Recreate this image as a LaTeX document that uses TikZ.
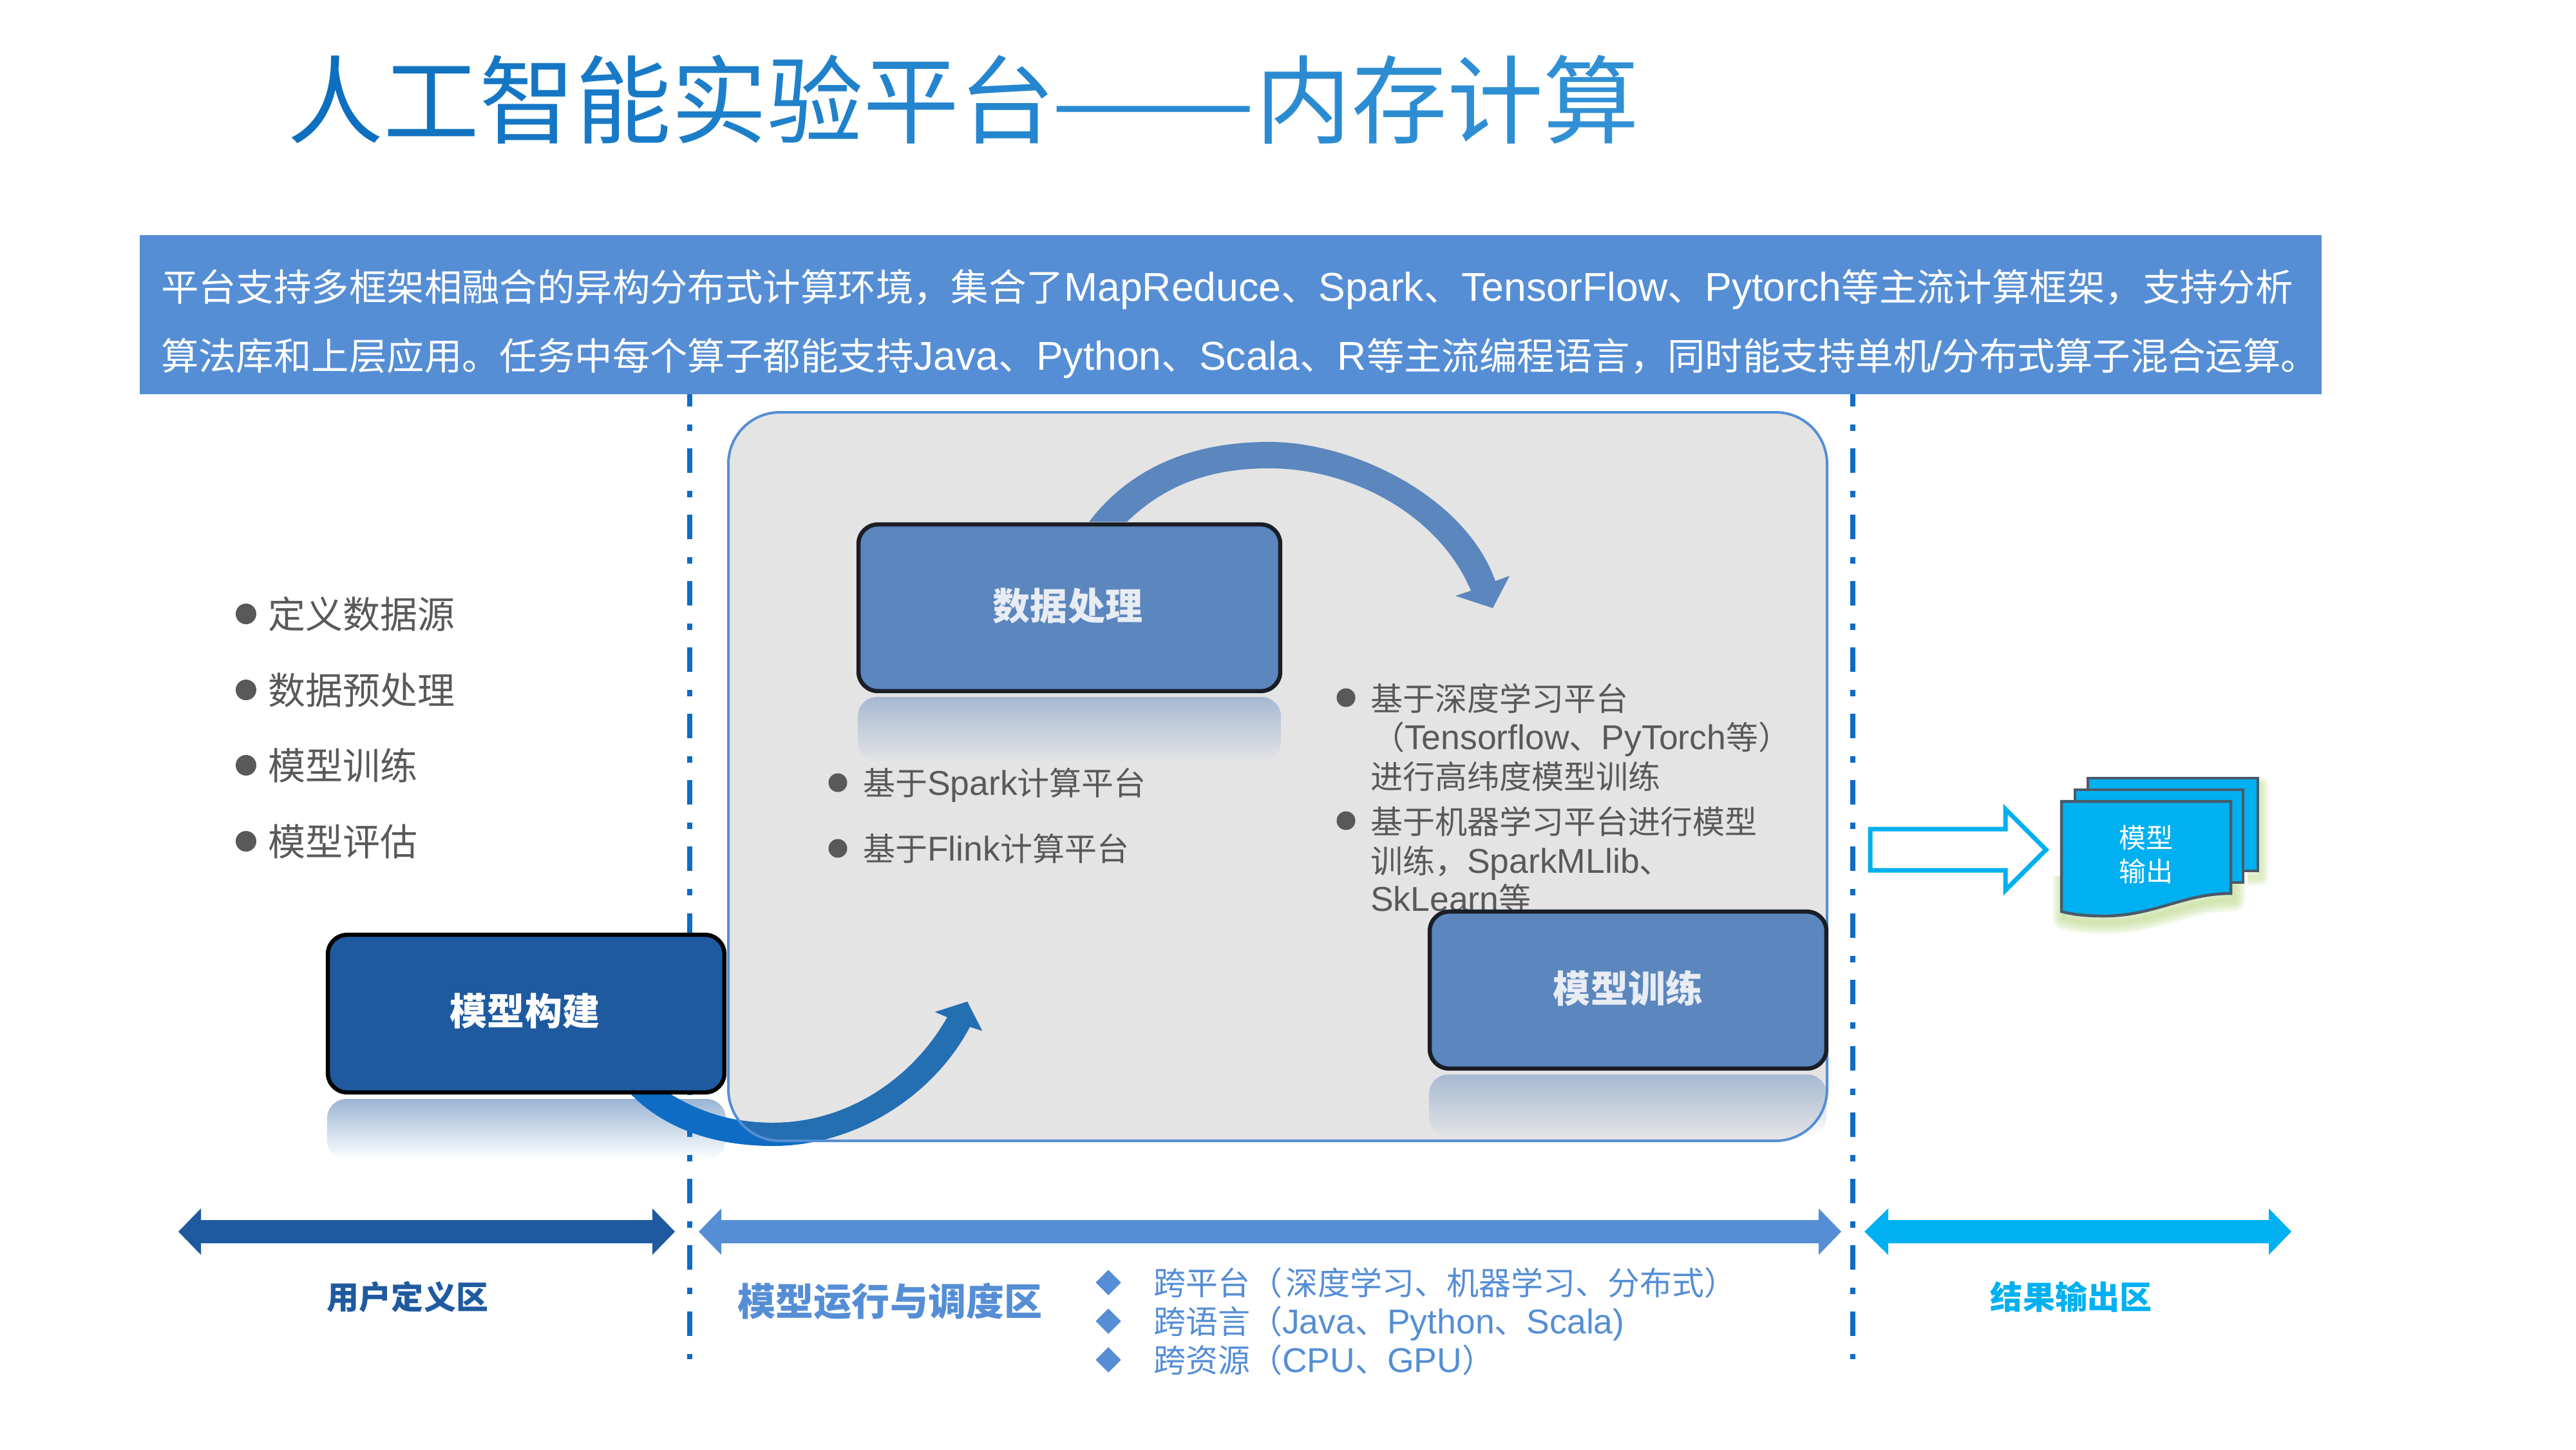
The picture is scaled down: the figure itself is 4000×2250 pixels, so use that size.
\documentclass[tikz,border=0pt]{standalone}
\usepackage{fontspec}
\usepackage{graphicx}
\usetikzlibrary{fadings,shapes.geometric}
\setmainfont{Noto Sans CJK SC}
\newfontfamily\latfont{Liberation Sans}[Scale=1.07]
\newcommand{\lat}[1]{{\latfont #1}}
\definecolor{titlestart}{HTML}{0D6FC0}
\definecolor{titleend}{HTML}{3090D5}
\definecolor{bannerblue}{HTML}{558ED5}
\definecolor{navy}{HTML}{1F5AA0}
\definecolor{midblue}{HTML}{5B86BE}
\definecolor{cyanblue}{HTML}{00B0F0}
\definecolor{linkblue}{HTML}{0E6CC4}
\definecolor{sweepblue}{HTML}{246FB2}
\definecolor{panelgray}{HTML}{E4E4E4}
\definecolor{textgray}{HTML}{595959}
\definecolor{sheetedge}{HTML}{4A5A6A}
\definecolor{boxtext}{HTML}{E8ECF3}
\definecolor{boxedge}{HTML}{1A1F26}
\definecolor{glowgreen}{HTML}{C0DC90}
\newcommand{\pxf}[1]{\fontsize{\dimexpr #1pt*2845/10000\relax}{\dimexpr #1pt*3414/10000\relax}\selectfont}
\newcommand{\tc}[2]{\textcolor{titlestart!#1!titleend}{#2}}
\tikzfading[name=reflectfade, top color=transparent!55, bottom color=transparent!100]
\tikzset{
 x=0.01cm,y=-0.01cm,
 txt/.style={anchor=base west,inner sep=0pt,outer sep=0pt,font=\pxf{#1},yshift=-#1*0.0038cm},
 cardbox/.style={draw,line width=0.065cm,rounded corners=0.3cm,inner sep=0pt,align=center},
 divider/.style={draw=linkblue,line width=0.08cm,dash pattern=on 0.38cm off 0.28cm on 0.10cm off 0.27cm,dash phase=0.19cm},
 dot/.style={circle,fill=textgray,minimum size=0.32cm,inner sep=0pt},
 gem/.style={diamond,fill=bannerblue,minimum size=0.4cm,inner sep=0pt},
 sheet/.style={draw=sheetedge,line width=0.045cm,fill=cyanblue},
}
\begin{document}
\begin{tikzpicture}
\useasboundingbox (0,0) rectangle (4000,2250);
\fill[white] (0,0) rectangle (4000,2250);
% title
\node[txt=149] (title) at (446,155) {\tc{100}{人}\tc{90}{工}\tc{78}{智}\tc{68}{能}\tc{55}{实}\tc{45}{验}\tc{35}{平}\tc{30}{台}};
\node[txt=149,anchor=base] (titledash) at (1791,155) {\scalebox{1.27}[1]{\tc{20}{——}}};
\node[txt=149] (title2) at (1949,155) {\tc{15}{内}\tc{10}{存}\tc{5}{计}\tc{0}{算}};
% banner
\fill[bannerblue] (217,365) rectangle (3605,612);
\node[txt=58.4,text=white] (b1) at (250,445) {平台支持多框架相融合的异构分布式计算环境，集合了\lat{MapReduce}、\lat{Spark}、\lat{TensorFlow}、\lat{Pytorch}等主流计算框架，支持分析};
\node[txt=58.4,text=white] (b2) at (250,552) {算法库和上层应用。任务中每个算子都能支持\lat{Java}、\lat{Python}、\lat{Scala}、\lat{R}等主流编程语言，同时能支持单机\lat{/}分布式算子混合运算。};
% dividers
\coordinate (d1a) at (1071,612); \coordinate (d1b) at (1071,2110);
\coordinate (d2a) at (2877,612); \coordinate (d2b) at (2877,2110);
\draw[divider] (d1a) -- (d1b);
\draw[divider] (d2a) -- (d2b);
% panel fill
\fill[panelgray,rounded corners=0.8cm] (1131,640) rectangle (2837,1771);
% reflections
\fill[navy,path fading=reflectfade,rounded corners=0.3cm] (508,1800) -- (508,1706) -- (1127,1706) -- (1127,1800) -- cycle;
\fill[midblue,path fading=reflectfade,rounded corners=0.3cm] (1332,1182) -- (1332,1082) -- (1989,1082) -- (1989,1182) -- cycle;
\fill[midblue,path fading=reflectfade,rounded corners=0.3cm] (2219,1765) -- (2219,1668) -- (2836,1668) -- (2836,1765) -- cycle;
% curved arrow 1
\fill[midblue] (1691,810) .. controls (1760,720) and (1860,686) .. (1971,686)
  .. controls (2100,686) and (2275,770) .. (2322,902) -- (2344,894) -- (2318,944) -- (2260,925) -- (2284,917)
  .. controls (2235,800) and (2100,727) .. (1971,727) .. controls (1880,727) and (1810,752) .. (1750,810) -- cycle;
% curved arrow 2
\def\sweep{(980,1699) .. controls (1035,1755) and (1115,1779) .. (1200,1779)
  .. controls (1330,1779) and (1450,1700) .. (1506,1594) -- (1525,1600) -- (1502,1555) -- (1452,1571) -- (1471,1579)
  .. controls (1420,1670) and (1320,1743) .. (1200,1743) .. controls (1135,1743) and (1085,1725) .. (1042,1699) -- cycle}
\fill[linkblue] \sweep;
\begin{scope}
\clip[rounded corners=0.8cm] (1131,640) rectangle (2837,1771);
\fill[sweepblue] \sweep;
\end{scope}
\draw[draw=bannerblue,line width=0.04cm,rounded corners=0.8cm] (1131,640) rectangle (2837,1771);
% lists
\foreach \y/\t in {953/定义数据源,1071/数据预处理,1188/模型训练,1306/模型评估}{
 \node[dot] at (382,\y) {};
 \node[txt=58,text=textgray] at (416,\y) {\t};
}
\foreach \y/\t in {1215/基于\lat{Spark}计算平台,1317/基于\lat{Flink}计算平台}{
 \node[dot,minimum size=0.29cm] at (1301,\y) {};
 \node[txt=50,text=textgray] at (1340,\y) {\t};
}
\node[dot,minimum size=0.29cm] (r1) at (2090,1083) {};
\node[dot,minimum size=0.29cm] (r2) at (2090,1274) {};
\foreach \y/\t in {1084/基于深度学习平台,1144/\hspace{0.03cm}（\lat{Tensorflow}、\lat{PyTorch}等）,1205/进行高纬度模型训练,1275/基于机器学习平台进行模型,1336/{训练，\lat{SparkMLlib}、},1395/\lat{SkLearn}等}{
 \node[txt=50,text=textgray] at (2128,\y) {\t};
}
% boxes
\node[cardbox,draw=boxedge,fill=midblue,minimum width=6.545cm,minimum height=2.585cm] (proc) at (1660.5,943.5) {};
\node[font=\pxf{58}\bfseries,text=boxtext] (proct) at (1658,941) {数据处理};
\node[cardbox,draw=black,fill=navy,minimum width=6.155cm,minimum height=2.445cm] (build) at (817,1573.5) {};
\node[font=\pxf{58}\bfseries,text=white] (buildt) at (815,1569) {模型构建};
\node[cardbox,draw=boxedge,fill=midblue,minimum width=6.155cm,minimum height=2.435cm] (train) at (2528,1537) {};
\node[font=\pxf{58}\bfseries,text=boxtext] (traint) at (2528,1534) {模型训练};
% output arrow
\draw[cyanblue,line width=0.07cm,fill=white,miter limit=3] (2904,1287) -- (3114,1287) -- (3114,1256) -- (3177,1319) -- (3114,1382) -- (3114,1351) -- (2904,1351) -- cycle;
% glow
\def\frontsheet{(3201,1244) -- (3464,1244) -- (3464,1387) .. controls (3390,1387) and (3345,1422) .. (3267,1422) .. controls (3240,1422) and (3220,1420) .. (3201,1415) -- cycle}
\begin{scope}
\clip (3180,1360) rectangle (3530,1480);
\begin{scope}[shift={(4,10)}]
\foreach \w in {0.06,0.12,0.18,0.24,0.30,0.36}{
 \draw[glowgreen,line width=\w cm,opacity=0.17,line join=round] \frontsheet;
}
\end{scope}
\end{scope}
\begin{scope}
\clip (3490,1200) rectangle (3530,1480);
\begin{scope}[shift={(4,10)}]
\foreach \w in {0.05,0.10,0.15,0.20,0.25}{
 \draw[glowgreen,line width=\w cm,opacity=0.14,line join=round] (3242,1208) rectangle (3506,1352);
}
\end{scope}
\end{scope}
\draw[sheet] (3242,1208) rectangle (3506,1352);
\draw[sheet] (3222,1226) rectangle (3483,1370);
\draw[sheet] \frontsheet;
\node[font=\pxf{42},text=white] (m1) at (3332,1300) {模型};
\node[font=\pxf{42},text=white] (m2) at (3332,1352) {输出};
% zone arrows
\fill[navy] (277,1912) -- (312,1876) -- (312,1894) -- (1013,1894) -- (1013,1876) -- (1048,1912) -- (1013,1948) -- (1013,1930) -- (312,1930) -- (312,1948) -- cycle;
\fill[bannerblue] (1085,1912) -- (1120,1876) -- (1120,1894) -- (2824,1894) -- (2824,1876) -- (2859,1912) -- (2824,1948) -- (2824,1930) -- (1120,1930) -- (1120,1948) -- cycle;
\fill[cyanblue] (2895,1912) -- (2932,1876) -- (2932,1894) -- (3523,1894) -- (3523,1876) -- (3558,1912) -- (3523,1948) -- (3523,1930) -- (2932,1930) -- (2932,1948) -- cycle;
% zone labels
\node[font=\pxf{50}\bfseries,text=navy] (z1) at (633,2013) {用户定义区};
\node[font=\pxf{59}\bfseries,text=bannerblue] (z2) at (1382,2020) {模型运行与调度区};
\node[font=\pxf{50}\bfseries,text=cyanblue] (z3) at (3216,2013) {结果输出区};
\foreach \y/\t in {1991/跨平台（\hspace{0.05cm}深度学习、机器学习、分布式）,2051/{跨语言（\lat{Java}、\lat{Python}、\lat{Scala)}},2111/跨资源（\lat{CPU}、\lat{GPU}）}{
 \node[gem] at (1721,\y) {};
 \node[txt=50,text=bannerblue] at (1791,\y) {\t};
}
\end{tikzpicture}
\end{document}
